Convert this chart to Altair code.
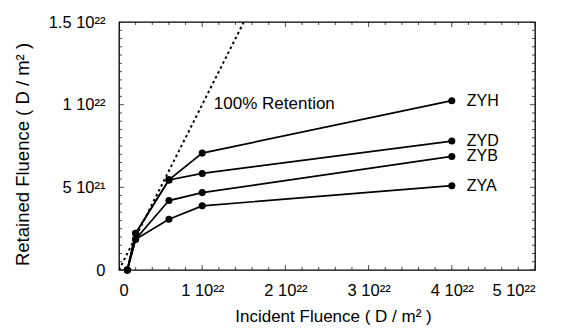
import json
import altair as alt
import numpy as np
import pandas as pd

# Incident fluence (units of 1e22 D/m^2) for each measured sample
x_vals = [0.1, 0.2, 0.6, 1.0, 4.0]
# Retained fluence (units of 1e22 D/m^2)
zyh = [0.0, 0.222, 0.545, 0.707, 1.024]
zyd = [0.0, 0.222, 0.545, 0.584, 0.780]
zyb = [0.0, 0.186, 0.420, 0.468, 0.687]
zya = [0.0, 0.186, 0.307, 0.388, 0.510]
series_names = ["ZYH", "ZYD", "ZYB", "ZYA"]
series_vals = [zyh, zyd, zyb, zya]

# 100% retention reference line
retention_x = [0.0, 1.5]
retention_y = [0.0, 1.5]
retention_label = "100% Retention"

x_ticks = [0, 1, 2, 3, 4, 5]
x_tick_labels = ["0", "1 10²²", "2 10²²", "3 10²²", "4 10²²", "5 10²²"]
y_ticks = [0, 0.5, 1.0, 1.5]
y_tick_labels = ["0", "5 10²¹", "1 10²²", "1.5 10²²"]

FONT = "Liberation Sans"

rows = []
for name, ys in zip(series_names, series_vals):
    for xv, yv in zip(x_vals, ys):
        rows.append({"series": name, "x": xv, "y": yv})
df = pd.DataFrame(rows)
end_df = df[df["x"] == x_vals[-1]].copy()
end_df["lx"] = 4.18

ret_df = pd.DataFrame({"x": retention_x, "y": retention_y})
ret_lbl = pd.DataFrame({"x": [1.14], "y": [1.006], "t": [retention_label]})

xs = alt.Scale(domain=[0, 5], nice=False, zero=False)
ys = alt.Scale(domain=[0, 1.5], nice=False, zero=False)


def label_expr(vals, labels):
    return "%s[indexof(%s, datum.value)]" % (
        json.dumps(labels, ensure_ascii=False), json.dumps(vals))


x_axis = alt.Axis(values=x_ticks, labelExpr=label_expr(x_ticks, x_tick_labels),
                  ticks=False, domain=False, grid=False, labelPadding=12,
                  labelFontSize=16.5,
                  title="Incident Fluence ( D / m² )", titleX=214, titleY=46,
                  titleFontSize=17,
                  titleBaseline="middle", titleAlign="center")
y_axis = alt.Axis(values=y_ticks, labelExpr=label_expr(y_ticks, y_tick_labels),
                  ticks=False, domain=False, grid=False, labelPadding=14,
                  labelFontSize=16.5,
                  title="Retained Fluence ( D / m² )", titleX=-97, titleY=132,
                  titleFontSize=18.5,
                  titleAngle=-90, titleBaseline="middle", titleAlign="center")

base = alt.Chart(df)
lines = base.mark_line(color="black", strokeWidth=1.7).encode(
    x=alt.X("x:Q", scale=xs, axis=x_axis),
    y=alt.Y("y:Q", scale=ys, axis=y_axis),
    detail="series:N",
)
points = base.mark_circle(color="black", size=50, opacity=1).encode(
    x=alt.X("x:Q", scale=xs), y=alt.Y("y:Q", scale=ys))

ret = alt.Chart(ret_df).mark_line(color="black", strokeWidth=2,
                                  strokeDash=[2.5, 3], clip=True).encode(
    x=alt.X("x:Q", scale=xs), y=alt.Y("y:Q", scale=ys))
ret_text = alt.Chart(ret_lbl).mark_text(align="left", baseline="middle",
                                         font=FONT, fontSize=17, color="black").encode(
    x=alt.X("x:Q", scale=xs), y=alt.Y("y:Q", scale=ys), text="t:N")
names = alt.Chart(end_df).mark_text(align="left", baseline="middle",
                                     font=FONT, fontSize=16, color="black").encode(
    x=alt.X("lx:Q", scale=xs), y=alt.Y("y:Q", scale=ys), text="series:N")

# inward tick marks on all four sides of the frame
xt = np.round(np.arange(0, 5.0001, 0.2), 3)
xt_df = pd.DataFrame({"v": xt, "len": [10 if abs(v - round(v)) < 1e-6 else 6 for v in xt]})
yt = np.round(np.arange(0, 1.50001, 0.05), 3)
yt_df = pd.DataFrame({"v": yt, "len": [10 if abs(v * 2 - round(v * 2)) < 1e-6 else 6 for v in yt]})

tick_layers = []
for yd in [0, 1.5]:
    tick_layers.append(alt.Chart(xt_df).mark_tick(orient="vertical", color="black",
                                                  thickness=1, clip=True).encode(
        x=alt.X("v:Q", scale=xs), y=alt.datum(yd, scale=ys),
        size=alt.Size("len:Q", scale=None, legend=None)))
for xd in [0, 5]:
    tick_layers.append(alt.Chart(yt_df).mark_tick(orient="horizontal", color="black",
                                                  thickness=1, clip=True).encode(
        y=alt.Y("v:Q", scale=ys), x=alt.datum(xd, scale=xs),
        size=alt.Size("len:Q", scale=None, legend=None)))

chart = alt.layer(lines, *tick_layers, ret, points, ret_text, names).properties(
    width=416, height=248,
    autosize=alt.AutoSizeParams(type="none"),
    padding={"left": 111, "top": 14, "right": 25, "bottom": 58},
).configure_view(stroke="black", strokeWidth=1.3).configure_axis(
    labelFont=FONT, labelColor="black",
    titleFont=FONT, titleColor="black", titleFontWeight="normal",
)

chart.save("out.html", embed_options={"renderer": "svg", "actions": False})
